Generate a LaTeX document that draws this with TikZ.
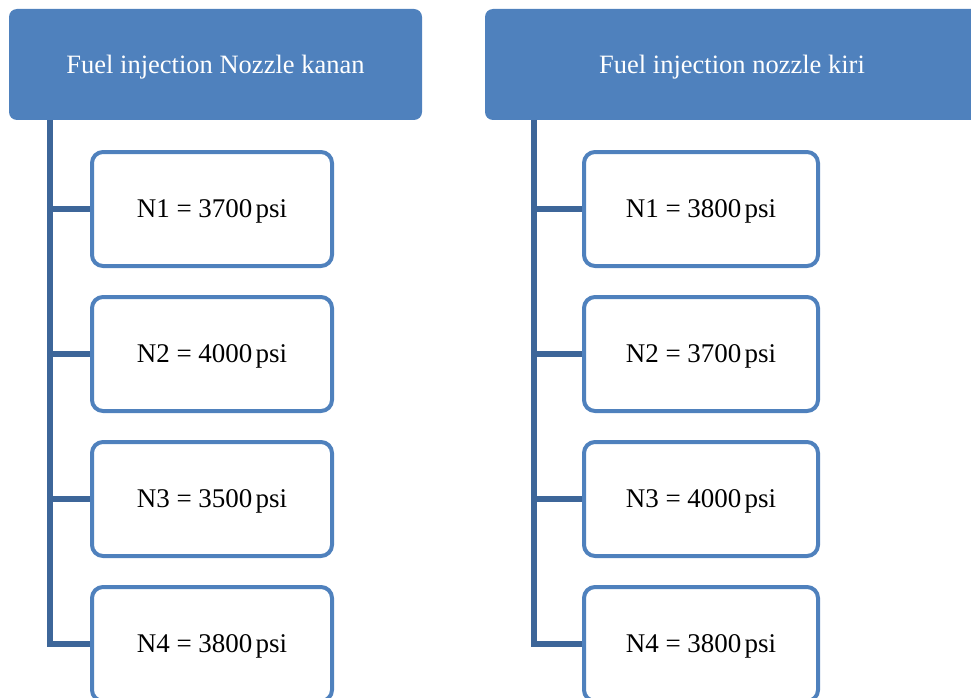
\documentclass[tikz,border=0pt]{standalone}
\usepackage{fontspec}
\setmainfont{Liberation Serif}
\definecolor{hdrblue}{HTML}{4F81BD}
\definecolor{boxblue}{HTML}{4F81BD}
\definecolor{spineblue}{HTML}{3D6699}
\tikzset{
  header/.style={fill=hdrblue, rounded corners=8pt, text=white,
    inner sep=0pt, text depth=0pt, font=\fontsize{26.5}{30}\selectfont},
  valbox/.style={draw=boxblue, line width=4pt, fill=white, rounded corners=11pt,
    inner sep=0pt, text depth=0pt, font=\fontsize{27}{30}\selectfont},
  spine/.style={draw=spineblue, line width=5.5pt},
}
\newcommand{\val}[2]{N#1 = #2\hspace{0.12em}psi}
\begin{document}
\begin{tikzpicture}[x=1pt,y=-1pt]
\useasboundingbox (0,0) rectangle (971,698);
\clip (0,0) rectangle (971,698);

% headers
\node[header, minimum width=413pt, minimum height=111pt] (hL) at (215.5,64.5) {Fuel injection Nozzle kanan};
\node[header, minimum width=494pt, minimum height=111pt] (hR) at (732,64.5) {Fuel injection nozzle kiri};

% left column
\foreach \i/\v/\y in {1/3700/209, 2/4000/354, 3/3500/499, 4/3800/644}
  \node[valbox, minimum width=240pt, minimum height=114pt] (L\i) at (212,\y) {\val{\i}{\v}};
% right column
\foreach \i/\v/\y in {1/3800/209, 2/3700/354, 3/4000/499, 4/3800/644}
  \node[valbox, minimum width=234pt, minimum height=114pt] (R\i) at (701,\y) {\val{\i}{\v}};

% connectors
\coordinate (sL) at (50,120);
\coordinate (sR) at (534,120);
\draw[spine] (sL) |- (L4.west);
\draw[spine] (sR) |- (R4.west);
\foreach \i in {1,2,3} {
  \draw[spine] (L\i.west -| sL) -- (L\i.west);
  \draw[spine] (R\i.west -| sR) -- (R\i.west);
}
\end{tikzpicture}
\end{document}
